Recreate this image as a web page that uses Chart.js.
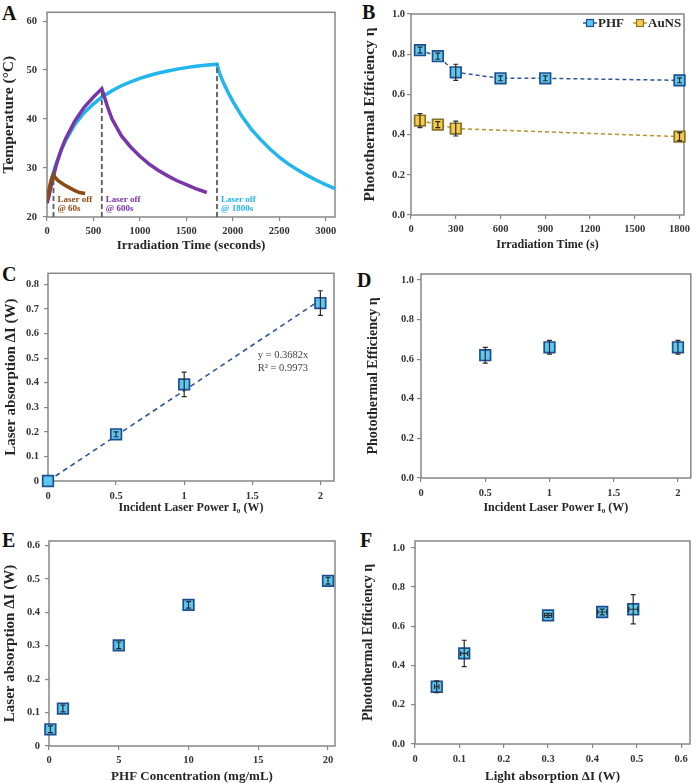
<!DOCTYPE html>
<html lang="en">
<head>
<meta charset="UTF-8">
<title>Photothermal characterisation</title>
<script src="https://cdn.jsdelivr.net/npm/chart.js"></script>
<style>
    body {
        margin: 0;
        width: 700px;
        height: 783px;
        position: relative;
        overflow: hidden;
        background: #fff;
        font-family: "Liberation Serif", "DejaVu Serif", serif;
    }
    canvas { position: absolute; }
    .tag {
        position: absolute;
        font-size: 20px;
        font-weight: bold;
        line-height: 1;
        color: #111;
    }
</style>
</head>
<body>
<div class="tag" style="left:2px;top:3px">A</div>
<div class="tag" style="left:362px;top:2px">B</div>
<div class="tag" style="left:2px;top:264px">C</div>
<div class="tag" style="left:357px;top:270px">D</div>
<div class="tag" style="left:2px;top:530px">E</div>
<div class="tag" style="left:360px;top:530px">F</div>

<canvas id="chartA" width="345" height="253" style="left:0;top:0"></canvas>
<canvas id="chartB" width="339" height="252" style="left:361px;top:0"></canvas>
<canvas id="chartC" width="343" height="253" style="left:2px;top:262px"></canvas>
<canvas id="chartD" width="335" height="253" style="left:365px;top:262px"></canvas>
<canvas id="chartE" width="344" height="262" style="left:1px;top:522px"></canvas>
<canvas id="chartF" width="340" height="262" style="left:360px;top:522px"></canvas>

<script>
// ---- A: temperature during / after irradiation (s, °C)
const t60 = [0, 20, 40, 68, 90, 120, 160, 200, 250, 300, 350, 410];
const T60 = [23.2, 25.4, 27.2, 28.7, 28.0, 27.4, 26.9, 26.4, 25.9, 25.4, 25.0, 24.8];
const t600 = [0, 25, 50, 100, 150, 200, 300, 400, 500, 590, 620, 650, 700, 800, 900, 1000, 1100, 1200, 1300, 1400, 1500, 1600, 1720];
const T600 = [22.8, 24.6, 26.8, 30.6, 33.6, 36.0, 39.6, 42.4, 44.5, 46.2, 44.4, 42.6, 40.0, 36.6, 34.3, 32.4, 30.8, 29.5, 28.4, 27.4, 26.6, 25.8, 25.0];
const t1800 = [0, 25, 50, 100, 150, 200, 300, 400, 500, 600, 700, 800, 900, 1000, 1100, 1200, 1300, 1400, 1500, 1600, 1700, 1830,
               1860, 1900, 1950, 2000, 2100, 2200, 2300, 2400, 2500, 2600, 2700, 2800, 2900, 3000, 3100];
const T1800 = [23.0, 25.6, 27.8, 31.0, 33.5, 35.6, 38.9, 41.3, 43.1, 44.6, 45.8, 46.8, 47.6, 48.3, 48.9, 49.4, 49.8, 50.2, 50.5, 50.8, 51.0, 51.2,
               49.2, 47.4, 45.4, 43.6, 40.5, 37.9, 35.8, 33.9, 32.2, 30.8, 29.6, 28.5, 27.5, 26.6, 25.8];
const offTimes = [70, 590, 1830];
const offPeaks = [28.7, 46.2, 51.2];
const offLabels = ['@ 60s', '@ 600s', '@ 1800s'];
const aTicksX = [0, 500, 1000, 1500, 2000, 2500, 3000];
const aTicksY = [20, 30, 40, 50, 60];

// ---- B: efficiency vs irradiation time
const bTime = [60, 180, 300, 600, 900, 1800];
const bPHF = [0.82, 0.79, 0.71, 0.68, 0.68, 0.67];
const bPHFErr = [0.015, 0.015, 0.04, 0.012, 0.012, 0.012];
const bAuTime = [60, 180, 300, 1800];
const bAu = [0.47, 0.45, 0.43, 0.39];
const bAuErr = [0.035, 0.015, 0.037, 0.02];
const bTicksX = [0, 300, 600, 900, 1200, 1500, 1800];
const effTicks = [0, 0.2, 0.4, 0.6, 0.8, 1.0];

// ---- C: absorbed power vs incident power
const cPower = [0, 0.5, 1, 2];
const cAbs = [0, 0.19, 0.393, 0.724];
const cAbsErr = [0, 0.01, 0.05, 0.05];
const cFitX = [0, 2];
const cFitY = [0, 0.7364];
const powerTicks = [0, 0.5, 1, 1.5, 2];
const cTicksY = [0, 0.1, 0.2, 0.3, 0.4, 0.5, 0.6, 0.7, 0.8];

// ---- D: efficiency vs incident power
const dPower = [0.5, 1, 2];
const dEff = [0.62, 0.66, 0.66];
const dEffErr = [0.04, 0.035, 0.035];

// ---- E: absorbed power vs concentration
const eConc = [0.1, 1, 5, 10, 20];
const eAbs = [0.05, 0.112, 0.301, 0.422, 0.494];
const eAbsErr = [0.01, 0.01, 0.01, 0.01, 0.01];
const eTicksX = [0, 5, 10, 15, 20];
const eTicksY = [0, 0.1, 0.2, 0.3, 0.4, 0.5, 0.6];

// ---- F: efficiency vs absorbed power
const fAbs = [0.049, 0.111, 0.300, 0.422, 0.492];
const fAbsErr = [0.005, 0.008, 0.008, 0.01, 0.01];
const fEff = [0.292, 0.462, 0.656, 0.673, 0.687];
const fEffErr = [0.03, 0.067, 0.01, 0.015, 0.075];
const fTicksX = [0, 0.1, 0.2, 0.3, 0.4, 0.5, 0.6];

const SERIF = '"Liberation Serif", "DejaVu Serif", serif';
Chart.defaults.font.family = SERIF;
Chart.defaults.color = '#262626';

const pts = (xs, ys) => xs.map((x, i) => ({ x: x, y: ys[i] }));
const plain = v => String(+v.toFixed(2));
const oneDec = v => v.toFixed(1);

function axis(o) {
    return {
        type: 'linear',
        min: o.min,
        max: o.max,
        afterBuildTicks: s => { s.ticks = o.ticks.map(v => ({ value: v })); },
        afterFit: s => { if (s.isHorizontal()) s.height = o.size; else s.width = o.size; },
        ticks: {
            padding: o.pad, autoSkip: false, maxRotation: 0,
            color: '#333', font: { size: 10.5, weight: 'bold' }, callback: o.fmt
        },
        grid: { drawOnChartArea: false, tickLength: 4, color: '#878787', lineWidth: 1.2 },
        border: { display: false },
        title: { display: true, text: o.title, color: '#262626', padding: 0, font: { size: o.fs, weight: 'bold' } }
    };
}

const frame = {
    id: 'frame',
    beforeDatasetsDraw(chart) {
        const a = chart.chartArea, ctx = chart.ctx;
        ctx.save();
        ctx.strokeStyle = '#878787';
        ctx.lineWidth = 1.5;
        ctx.strokeRect(a.left, a.top, a.width, a.height);
        ctx.restore();
    }
};

const errorBars = {
    id: 'errorBars',
    afterDatasetsDraw(chart) {
        const ctx = chart.ctx, xs = chart.scales.x, ys = chart.scales.y;
        ctx.save();
        ctx.strokeStyle = '#2a2a2a';
        ctx.lineWidth = 1.2;
        chart.data.datasets.forEach(ds => {
            if (!ds.errY && !ds.errX) return;
            ds.data.forEach((p, j) => {
                const px = xs.getPixelForValue(p.x), py = ys.getPixelForValue(p.y);
                ctx.beginPath();
                const ey = ds.errY ? ds.errY[j] : 0;
                if (ey) {
                    const y1 = ys.getPixelForValue(p.y + ey), y2 = ys.getPixelForValue(p.y - ey);
                    ctx.moveTo(px, y1); ctx.lineTo(px, y2);
                    ctx.moveTo(px - 2.5, y1); ctx.lineTo(px + 2.5, y1);
                    ctx.moveTo(px - 2.5, y2); ctx.lineTo(px + 2.5, y2);
                }
                const ex = ds.errX ? ds.errX[j] : 0;
                if (ex) {
                    const x1 = xs.getPixelForValue(p.x - ex), x2 = xs.getPixelForValue(p.x + ex);
                    ctx.moveTo(x1, py); ctx.lineTo(x2, py);
                    ctx.moveTo(x1, py - 2.5); ctx.lineTo(x1, py + 2.5);
                    ctx.moveTo(x2, py - 2.5); ctx.lineTo(x2, py + 2.5);
                }
                ctx.stroke();
            });
        });
        ctx.restore();
    }
};

function panel(id, datasets, xo, yo, pad, extra) {
    return new Chart(document.getElementById(id), {
        type: 'scatter',
        data: { datasets: datasets },
        options: {
            responsive: false,
            animation: false,
            layout: { padding: pad },
            plugins: { legend: { display: false }, tooltip: { enabled: false } },
            scales: { x: axis(xo), y: axis(yo) }
        },
        plugins: [frame, errorBars].concat(extra || [])
    });
}

const blueFill = '#5cc8f0', blueEdge = '#1f4e8f';
const goldFill = '#f6cb4c', goldEdge = '#86722a';
function markers(xs, ys, errY, errX, fill, edge) {
    return {
        data: pts(xs, ys), errY: errY, errX: errX, clip: false,
        pointStyle: 'rect', pointRadius: 7.5, pointBorderWidth: 1.7,
        backgroundColor: fill, borderColor: edge, showLine: false
    };
}
function curve(xs, ys, color, width, dash) {
    return {
        data: pts(xs, ys), showLine: true, pointRadius: 0, tension: 0,
        borderColor: color, borderWidth: width, borderDash: dash || []
    };
}

// ---------- A
const offLines = offTimes.map((t, i) => curve([t, t], [20, offPeaks[i]], '#5a5a5a', 1.8, [5, 3]));
const laserText = {
    id: 'laserText',
    afterDraw(chart) {
        const ctx = chart.ctx, xs = chart.scales.x, ys = chart.scales.y;
        const cols = ['#8e4a12', '#7a35a8', '#22b6ee'];
        ctx.save();
        ctx.font = 'bold 9px ' + SERIF;
        ctx.textBaseline = 'middle';
        offTimes.forEach((t, i) => {
            const x = xs.getPixelForValue(t) + 4;
            ctx.fillStyle = cols[i];
            ctx.fillText('Laser off', x, ys.getPixelForValue(23.6));
            ctx.fillText(offLabels[i], x, ys.getPixelForValue(21.6));
        });
        ctx.restore();
    }
};
panel('chartA',
    offLines.concat([
        curve(t60, T60, '#8e4a12', 3.5),
        curve(t600, T600, '#7a35a8', 3.5),
        curve(t1800, T1800, '#22b6ee', 3.5)
    ]),
    { min: 0, max: 3100, ticks: aTicksX, size: 36, pad: 4, fmt: v => String(v), title: 'Irradiation Time (seconds)', fs: 13 },
    { min: 20, max: 61.8, ticks: aTicksY, size: 47, pad: 6, fmt: v => String(v), title: 'Temperature (°C)', fs: 15.5 },
    { top: 10, right: 10 }, [laserText]);

// ---------- B
const legendB = {
    id: 'legendB',
    afterDraw(chart) {
        const ctx = chart.ctx, a = chart.chartArea;
        const items = [['PHF', blueFill, blueEdge, '#2f5597', a.right - 101], ['AuNS', goldFill, goldEdge, '#b8952c', a.right - 51]];
        ctx.save();
        ctx.font = 'bold 13px ' + SERIF;
        ctx.textBaseline = 'middle';
        const y = a.top + 9;
        items.forEach(it => {
            const x = it[4];
            ctx.strokeStyle = it[3]; ctx.lineWidth = 1.5;
            ctx.beginPath(); ctx.moveTo(x, y); ctx.lineTo(x + 14, y); ctx.stroke();
            ctx.fillStyle = it[1]; ctx.fillRect(x + 3.5, y - 3.5, 7, 7);
            ctx.strokeStyle = it[2]; ctx.lineWidth = 1.2; ctx.strokeRect(x + 3.5, y - 3.5, 7, 7);
            ctx.fillStyle = '#262626';
            ctx.fillText(it[0], x + 15, y + 0.5);
        });
        ctx.restore();
    }
};
panel('chartB', [
        markers(bTime, bPHF, bPHFErr, null, blueFill, blueEdge),
        markers(bAuTime, bAu, bAuErr, null, goldFill, goldEdge),
        curve(bTime, bPHF, '#2f5597', 1.5, [4, 3]),
        curve(bAuTime, bAu, '#b8952c', 1.5, [4, 3])
    ],
    { min: 0, max: 1830, ticks: bTicksX, size: 37, pad: 4, fmt: v => String(v), title: 'Irradiation Time (s)', fs: 12 },
    { min: 0, max: 1.0, ticks: effTicks, size: 50, pad: 2, fmt: oneDec, title: 'Photothermal Efficiency η', fs: 15.5 },
    { top: 14, right: 16 }, [legendB]);

// ---------- C
const fitText = {
    id: 'fitText',
    afterDraw(chart) {
        const ctx = chart.ctx, xs = chart.scales.x, ys = chart.scales.y;
        ctx.save();
        ctx.font = '10.5px ' + SERIF;
        ctx.fillStyle = '#404040';
        ctx.textBaseline = 'middle';
        ctx.fillText('y = 0.3682x', xs.getPixelForValue(1.54), ys.getPixelForValue(0.51));
        ctx.fillText('R² = 0.9973', xs.getPixelForValue(1.54), ys.getPixelForValue(0.46));
        ctx.restore();
    }
};
panel('chartC', [
        markers(cPower, cAbs, cAbsErr, null, blueFill, blueEdge),
        curve(cFitX, cFitY, '#2f5597', 1.6, [5, 4])
    ],
    { min: 0, max: 2.1, ticks: powerTicks, size: 34, pad: 5, fmt: plain, title: 'Incident Laser Power I₀ (W)', fs: 12 },
    { min: 0, max: 0.845, ticks: cTicksY, size: 46, pad: 5, fmt: plain, title: 'Laser absorption ΔI (W)', fs: 15 },
    { top: 11, right: 11 }, [fitText]);

// ---------- D
panel('chartD', [
        markers(dPower, dEff, dEffErr, null, blueFill, blueEdge)
    ],
    { min: 0, max: 2.1, ticks: powerTicks, size: 37, pad: 5, fmt: plain, title: 'Incident Laser Power I₀ (W)', fs: 12 },
    { min: 0, max: 1.03, ticks: effTicks, size: 56, pad: 3, fmt: oneDec, title: 'Photothermal Efficiency η', fs: 14 },
    { top: 12, right: 2 });

// ---------- E
panel('chartE', [
        markers(eConc, eAbs, eAbsErr, null, blueFill, blueEdge)
    ],
    { min: 0, max: 20.5, ticks: eTicksX, size: 38, pad: 4, fmt: plain, title: 'PHF Concentration (mg/mL)', fs: 13 },
    { min: 0, max: 0.613, ticks: eTicksY, size: 48, pad: 5, fmt: plain, title: 'Laser absorption ΔI (W)', fs: 15 },
    { top: 19, right: 10 });

// ---------- F
panel('chartF', [
        markers(fAbs, fEff, fEffErr, fAbsErr, blueFill, blueEdge)
    ],
    { min: 0, max: 0.62, ticks: fTicksX, size: 40, pad: 5, fmt: plain, title: 'Light absorption ΔI (W)', fs: 13 },
    { min: 0, max: 1.035, ticks: effTicks, size: 55, pad: 6, fmt: oneDec, title: 'Photothermal Efficiency η', fs: 14 },
    { top: 19, right: 10 });
</script>
</body>
</html>
